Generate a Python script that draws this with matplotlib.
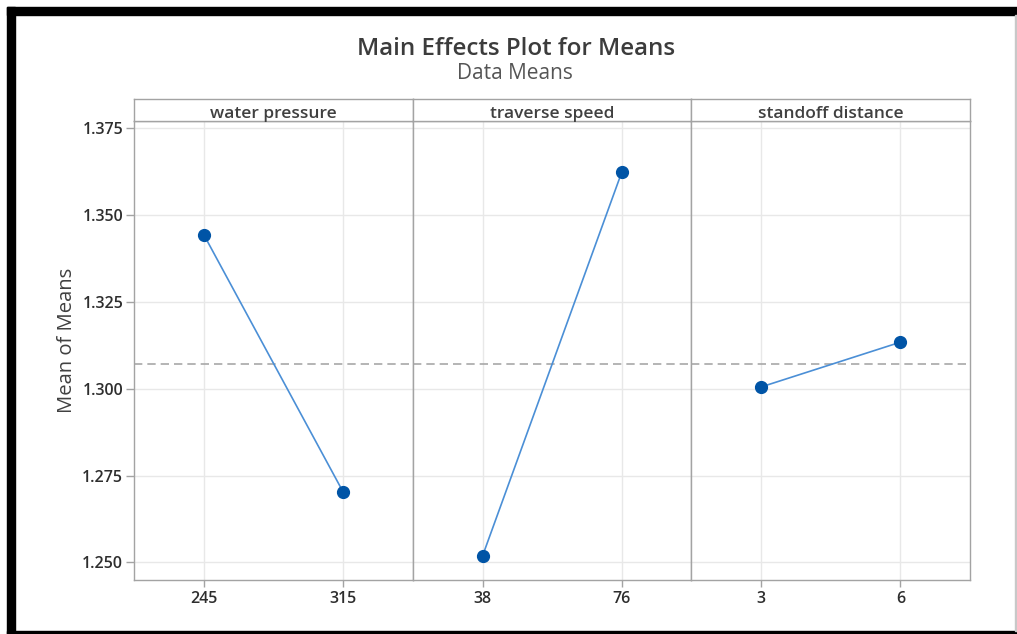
import matplotlib
matplotlib.use('Agg')
import matplotlib.pyplot as plt
from matplotlib.patches import Rectangle

plt.rcParams['font.family'] = ['Open Sans', 'DejaVu Sans']

# data
factors = ['water pressure', 'traverse speed', 'standoff distance']
levels = [['245', '315'], ['38', '76'], ['3', '6']]
means = [[1.3443, 1.2702], [1.2518, 1.3624], [1.3005, 1.3134]]
grand_mean = 1.3071
yticks = [1.250, 1.275, 1.300, 1.325, 1.350, 1.375]
ytick_labels = ['1.250', '1.275', '1.300', '1.325', '1.350', '1.375']

W, H = 1017, 634
fig = plt.figure(figsize=(W / 100, H / 100), dpi=100)

# panel geometry in pixels -> figure fractions
left, right = 134.3 / W, 970 / W
bottom, top = 1 - 580 / H, 1 - 120.7 / H
strip_top = 1 - 99 / H
pw = (right - left) / 3

spine_col = '#a3a3a3'
text_col = '#2e2e2e'

for i in range(3):
    ax = fig.add_axes([left + i * pw, bottom, pw, top - bottom])
    x = list(range(len(levels[i])))
    ax.plot(x, means[i], color='#4b8fd6', lw=1.2, zorder=3)
    ax.plot(x, means[i], 'o', color='#0054a6', ms=8.5, zorder=4)
    ax.axhline(grand_mean, color='#a8a8a8', ls=(0, (5, 3)), lw=1.2, zorder=2)
    ax.set_xlim(-0.5, 1.5)
    ax.set_ylim(1.2449, 1.3772)
    ax.set_xticks(x, levels[i])
    ax.set_yticks(yticks)
    ax.grid(True, color='#e8e8e8', lw=1)
    ax.set_axisbelow(True)
    for s in ax.spines.values():
        s.set_color(spine_col)
        s.set_linewidth(1)
    ax.tick_params(axis='x', length=5, width=1, color=spine_col,
                   labelsize=11.5, labelcolor=text_col, pad=3)
    if i == 0:
        ax.set_yticklabels(ytick_labels)
        ax.tick_params(axis='y', length=6, width=1, color=spine_col,
                       labelsize=11.5, labelcolor=text_col, pad=2)
    else:
        ax.tick_params(axis='y', length=0, labelleft=False)
    for lab in ax.get_xticklabels() + ax.get_yticklabels():
        lab.set_fontweight('semibold')

    # strip on top of each panel
    sax = fig.add_axes([left + i * pw, top, pw, strip_top - top])
    sax.set_xticks([])
    sax.set_yticks([])
    for s in sax.spines.values():
        s.set_color(spine_col)
        s.set_linewidth(1)
    fig.text(left + (i + 0.5) * pw, 1 - 118.5 / H, factors[i], ha='center',
             va='baseline', fontsize=12.5, fontweight='semibold', color='#404040')

fig.text(516 / W, 1 - 55 / H, 'Main Effects Plot for Means', ha='center',
         va='baseline', fontsize=17.4, fontweight='semibold', color='#3c3c3c')
fig.text(515 / W, 1 - 79 / H, 'Data Means', ha='center', va='baseline',
         fontsize=15, color='#555555')
fig.text(66.5 / W, 1 - 340 / H, 'Mean of Means', ha='center', va='center',
         rotation=90, fontsize=14.6, color='#404040')

# black frame around the picture
frame = [(7, 7, 1010, 8), (7, 7, 8, 627), (7, 631, 1010, 3)]
for fx, fy, fw, fh in frame:
    fig.patches.append(Rectangle((fx / W, 1 - (fy + fh) / H), fw / W, fh / H,
                                 transform=fig.transFigure, color='black'))
fig.patches.append(Rectangle((1015 / W, 1 - 631 / H), 1.5 / W, 616 / H,
                             transform=fig.transFigure, color='#c8c8c8'))

fig.savefig('out.png', dpi=100)
